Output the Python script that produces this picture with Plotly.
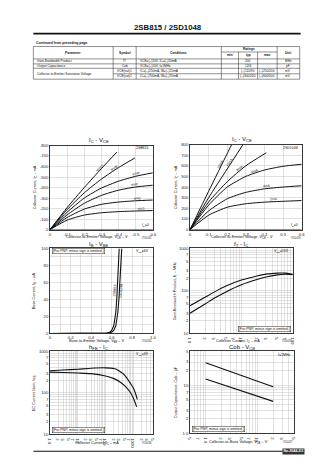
import math
import numpy as np
import plotly.graph_objects as go

W, H = 336, 475
FONT = "Liberation Sans, Arial, Helvetica, sans-serif"
INK = "#111111"
GRID = "#c4c4c4"

# ---------------- I_C - V_CE : 2SB815 (PNP) ----------------
b815_ib_labels = ["-10mA", "-8mA", "-6mA", "-4mA", "-2mA", "-1mA"]
b815_vce = [
    [0, -0.1, -0.2, -0.3, -0.39],
    [0, -0.1, -0.2, -0.3, -0.4, -0.495],
    [0, -0.1, -0.2, -0.3, -0.4, -0.5, -0.6],
    [0, -0.1, -0.2, -0.3, -0.4, -0.5, -0.6],
    [0, -0.1, -0.2, -0.3, -0.4, -0.5, -0.6],
    [0, -0.1, -0.2, -0.3, -0.4, -0.5, -0.6],
]
b815_ic = [
    [0, -210, -400, -580, -737],
    [0, -190, -350, -480, -590, -681],
    [0, -165, -300, -395, -460, -507, -540],
    [0, -140, -250, -325, -375, -405, -422],
    [0, -115, -195, -240, -262, -274, -281],
    [0, -90, -138, -160, -171, -177, -181],
]
b815_label_at = [-0.29, -0.375, -0.50, -0.49, -0.51, -0.53]

# ---------------- I_C - V_CE : 2SD1048 (NPN) ----------------
d1048_ib_labels = ["20mA", "10mA", "8mA", "6mA", "4mA", "2mA"]
d1048_vce = [
    [0, 0.1, 0.2, 0.224],
    [0, 0.1, 0.2, 0.285],
    [0, 0.1, 0.2, 0.3, 0.41],
    [0, 0.1, 0.2, 0.3, 0.4, 0.5, 0.6],
    [0, 0.1, 0.2, 0.3, 0.4, 0.5, 0.6],
    [0, 0.1, 0.2, 0.3, 0.4, 0.5, 0.6],
]
d1048_ic = [
    [0, 360, 715, 800],
    [0, 300, 570, 800],
    [0, 260, 450, 600, 722],
    [0, 230, 400, 500, 560, 595, 614],
    [0, 175, 290, 350, 383, 400, 412],
    [0, 135, 210, 243, 258, 266, 273],
]
d1048_label_at = [0.165, 0.215, 0.27, 0.35, 0.415, 0.45]

# ---------------- I_B - V_BE ----------------
ib_vbe_b815 = [0, 0.50, 0.55, 0.58, 0.60, 0.62, 0.63, 0.64, 0.65, 0.66, 0.673]
ib_b815 = [0, 0, 0.5, 1.5, 3.5, 9, 15, 25, 42, 66, 100]
ib_vbe_d1048 = [0, 0.52, 0.57, 0.60, 0.62, 0.64, 0.65, 0.66, 0.67, 0.68, 0.69, 0.698]
ib_d1048 = [0, 0, 0.5, 1.5, 3.5, 9, 15, 25, 40, 58, 82, 100]

# ---------------- f_T - I_C ----------------
ft_ic = [1, 2, 3, 5, 10, 20, 30, 50, 70, 100]
ft_b815 = [45, 72, 95, 130, 180, 225, 248, 262, 262, 245]
ft_d1048 = [30, 50, 68, 95, 140, 185, 212, 238, 247, 242]

# ---------------- h_FE - I_C ----------------
hfe_ic_d1048 = [1, 3, 10, 30, 100, 200, 300, 500, 800, 1000, 1200, 1380]
hfe_d1048 = [340, 355, 370, 390, 400, 385, 340, 260, 165, 130, 95, 70]
hfe_ic_b815 = [1, 3, 10, 30, 100, 200, 340, 500, 760, 1000, 1310]
hfe_b815 = [315, 310, 300, 290, 255, 220, 180, 145, 105, 75, 46]

# ---------------- Cob - V_CB ----------------
cob_vcb = [1, 2, 5, 10, 20]
cob_b815 = [29, 22, 15.5, 12, 9.2]
cob_d1048 = [13.3, 10.4, 7.6, 5.9, 4.6]

# ---------------- tick labels ----------------
ic_vce_pnp_x = [0, -0.1, -0.2, -0.3, -0.4, -0.5, -0.6]
ic_vce_pnp_xt = ["0", "-0.1", "-0.2", "-0.3", "-0.4", "-0.5", "-0.6"]
ic_vce_pnp_y = [0, -100, -200, -300, -400, -500, -600, -700, -800]
ic_vce_pnp_yt = ["0", "-100", "-200", "-300", "-400", "-500", "-600", "-700", "-800"]
ic_vce_npn_x = [0, 0.1, 0.2, 0.3, 0.4, 0.5, 0.6]
ic_vce_npn_xt = ["0", "0.1", "0.2", "0.3", "0.4", "0.5", "0.6"]
ic_vce_npn_y = [0, 100, 200, 300, 400, 500, 600, 700, 800]
ic_vce_npn_yt = ["0", "100", "200", "300", "400", "500", "600", "700", "800"]
vbe_x = [0, 0.1, 0.2, 0.3, 0.4, 0.5, 0.6, 0.7, 0.8, 0.9, 1.0]
vbe_xt = ["0", " ", "0.2", " ", "0.4", " ", "0.6", " ", "0.8", " ", "1.0"]
ib_y = [0, 10, 20, 30, 40, 50, 60, 70, 80, 90, 100]
ib_yt = ["0", " ", "20", " ", "40", " ", "60", " ", "80", " ", "100"]

# table contents
tbl_param = ["Gain-Bandwidth Product", "Output Capacitance", "Collector-to-Emitter Saturation Voltage"]
tbl_symbol = ["fT", "Cob", "VCE(sat)1", "VCE(sat)2"]
tbl_cond = ["VCE=(–)10V, IC=(–)50mA", "VCB=(–)10V, f=1MHz",
            "IC=(–)250mA, IB=(–)25mA", "IC=(–)700mA, IB=(–)70mA"]
tbl_typ = ["200", "12/6", "(–)110/90", "(–)300/240"]
tbl_max = ["", "", "(–)250/200", "(–)600/500"]
tbl_unit = ["MHz", "pF", "mV", "mV"]


def log_ticks(lo, hi, first_text):
    """Tick positions 1..9 per decade, labelled at 1, 2, 3, 5, 7."""
    vals, texts = [], []
    e = math.floor(math.log10(lo))
    while 10 ** e <= hi * 1.0001:
        for m in range(1, 10):
            v = m * 10 ** e
            if lo * 0.9999 <= v <= hi * 1.0001:
                vals.append(v)
                if m == 1:
                    t = f"{v:g}"
                elif m in (2, 3, 5, 7):
                    t = str(m)
                else:
                    t = " "
                texts.append(t)
        e += 1
    if texts and texts[0] in ("1", "1.0"):
        texts[0] = first_text
    return vals, texts


def dom_x(x0, x1):
    return [x0 / W, x1 / W]


def dom_y(y0, y1):
    return [1 - y1 / H, 1 - y0 / H]


def axis(**kw):
    base = dict(showgrid=True, gridcolor=GRID, gridwidth=0.5, zeroline=False,
                showline=True, linecolor="#222", linewidth=0.9, mirror=True,
                ticks="", tickfont=dict(size=4.2, family=FONT, color="#222"),
                fixedrange=True, showspikes=False)
    base.update(kw)
    return base


fig = go.Figure()


def curve(xs, ys, xa, ya, width=1.0, shape="spline"):
    fig.add_trace(go.Scatter(x=xs, y=ys, mode="lines",
                             line=dict(color=INK, width=width, shape=shape, smoothing=0.6),
                             xaxis=xa, yaxis=ya, showlegend=False, hoverinfo="skip"))


annotations = []
shapes = []


def text_px(text, x, y, size=4.0, xanchor="center", yanchor="middle", angle=0,
            color="#111", **extra):
    d = dict(text=text, x=x / W, y=1 - y / H, xref="paper", yref="paper",
             showarrow=False, xanchor=xanchor, yanchor=yanchor, textangle=angle,
             font=dict(size=size, family=FONT, color=color))
    d.update(extra)
    annotations.append(d)


def line_px(x0, y0, x1, y1, width=0.6, color="#222"):
    shapes.append(dict(type="line", xref="paper", yref="paper",
                       x0=x0 / W, x1=x1 / W, y0=1 - y0 / H, y1=1 - y1 / H,
                       line=dict(color=color, width=width)))


def label_on_curve(xs, ys, at, xa, ya, text, box, xr, yr, logx=False, logy=False,
                   size=3.4, yshift=2.5):
    """Rotated label sitting on a curve, angle taken from the local slope."""
    fx = math.log10 if logx else (lambda v: v)
    fy = math.log10 if logy else (lambda v: v)
    X = np.array([fx(v) for v in xs], float)
    Y = np.array([fy(v) for v in ys], float)
    if X[0] > X[-1]:
        X, Y = X[::-1], Y[::-1]
    a = fx(at)
    d = abs(X[-1] - X[0]) * 0.04
    ya_ = np.interp(a, X, Y)
    y1 = np.interp(a - d, X, Y)
    y2 = np.interp(a + d, X, Y)
    wpx, hpx = box[2] - box[0], box[3] - box[1]
    sx = wpx / (fx(xr[1]) - fx(xr[0]))
    sy = hpx / (fy(yr[1]) - fy(yr[0]))
    ang = -math.degrees(math.atan2((y2 - y1) * sy, (2 * d) * sx))
    xv = at
    yv = 10 ** ya_ if logy else ya_
    annotations.append(dict(text=text, x=xv, y=yv, xref=xa, yref=ya, showarrow=False,
                            textangle=ang, yshift=yshift,
                            font=dict(size=size, family=FONT, color="#111")))


# panel boxes (left, top, right, bottom) in pixels
P1 = (48, 144, 153, 229)
P2 = (191, 143, 305, 229)
P3 = (48, 248, 153, 334)
P4 = (191, 248, 296, 334)
P5 = (48, 352, 153, 436)
P6 = (191, 352, 297, 435)

layout_axes = {}

# ---- panel 1 ----
r1x, r1y = [0, -0.6], [0, -800]
layout_axes["xaxis"] = axis(domain=dom_x(P1[0], P1[2]), range=r1x, anchor="y",
                            tickvals=ic_vce_pnp_x, ticktext=ic_vce_pnp_xt)
layout_axes["yaxis"] = axis(domain=dom_y(P1[1], P1[3]), range=r1y, anchor="x",
                            tickvals=ic_vce_pnp_y, ticktext=ic_vce_pnp_yt)
for xs, ys, lab, at in zip(b815_vce, b815_ic, b815_ib_labels, b815_label_at):
    curve(xs, ys, "x", "y")
    label_on_curve(xs, ys, at, "x", "y", lab, P1, r1x, r1y)
curve([0, -0.6], [0, 0], "x", "y", width=1.0, shape="linear")

# ---- panel 2 ----
r2x, r2y = [0, 0.6], [0, 800]
layout_axes["xaxis2"] = axis(domain=dom_x(P2[0], P2[2]), range=r2x, anchor="y2",
                             tickvals=ic_vce_npn_x, ticktext=ic_vce_npn_xt)
layout_axes["yaxis2"] = axis(domain=dom_y(P2[1], P2[3]), range=r2y, anchor="x2",
                             tickvals=ic_vce_npn_y, ticktext=ic_vce_npn_yt)
for xs, ys, lab, at in zip(d1048_vce, d1048_ic, d1048_ib_labels, d1048_label_at):
    curve(xs, ys, "x2", "y2")
    label_on_curve(xs, ys, at, "x2", "y2", lab, P2, r2x, r2y)
curve([0, 0.6], [0, 0], "x2", "y2", width=1.0, shape="linear")

# ---- panel 3 ----
r3x, r3y = [0, 1.0], [0, 100]
layout_axes["xaxis3"] = axis(domain=dom_x(P3[0], P3[2]), range=r3x, anchor="y3",
                             tickvals=vbe_x, ticktext=vbe_xt)
layout_axes["yaxis3"] = axis(domain=dom_y(P3[1], P3[3]), range=r3y, anchor="x3",
                             tickvals=ib_y, ticktext=ib_yt)
curve(ib_vbe_b815, ib_b815, "x3", "y3", width=1.1, shape="linear")
curve(ib_vbe_d1048, ib_d1048, "x3", "y3", width=1.1, shape="linear")
annotations.append(dict(text="2SB815", x=0.628, y=50, xref="x3", yref="y3", showarrow=False,
                        textangle=-85, font=dict(size=3.4, family=FONT, color="#111")))
annotations.append(dict(text="2SD1048", x=0.69, y=50, xref="x3", yref="y3", showarrow=False,
                        textangle=-85, font=dict(size=3.4, family=FONT, color="#111")))

# ---- panel 4 ----
ft_xv, ft_xt = log_ticks(1, 100, "1.0")
ft_yv, ft_yt = log_ticks(10, 1000, "10")
r4x, r4y = [1, 100], [10, 1000]
layout_axes["xaxis4"] = axis(domain=dom_x(P4[0], P4[2]), type="log", range=[0, 2], anchor="y4",
                             tickvals=ft_xv, ticktext=ft_xt)
layout_axes["yaxis4"] = axis(domain=dom_y(P4[1], P4[3]), type="log", range=[1, 3], anchor="x4",
                             tickvals=ft_yv, ticktext=ft_yt)
curve(ft_ic, ft_b815, "x4", "y4", width=1.1)
curve(ft_ic, ft_d1048, "x4", "y4", width=1.1)
label_on_curve(ft_ic, ft_b815, 11, "x4", "y4", "2SB815", P4, r4x, r4y, True, True, yshift=3)
label_on_curve(ft_ic, ft_d1048, 13, "x4", "y4", "2SD1048", P4, r4x, r4y, True, True, yshift=-3)

# ---- panel 5 ----
hfe_xv, hfe_xt = log_ticks(1, 5000, "1.0")
hfe_yv, hfe_yt = log_ticks(10, 1000, "10")
r5x, r5y = [1, 5000], [10, 1000]
layout_axes["xaxis5"] = axis(domain=dom_x(P5[0], P5[2]), type="log",
                             range=[0, math.log10(5000)], anchor="y5",
                             tickvals=hfe_xv, ticktext=hfe_xt)
layout_axes["yaxis5"] = axis(domain=dom_y(P5[1], P5[3]), type="log", range=[1, 3], anchor="x5",
                             tickvals=hfe_yv, ticktext=hfe_yt)
curve(hfe_ic_d1048, hfe_d1048, "x5", "y5", width=1.1)
curve(hfe_ic_b815, hfe_b815, "x5", "y5", width=1.1)
label_on_curve(hfe_ic_d1048, hfe_d1048, 90, "x5", "y5", "2SD1048", P5, r5x, r5y, True, True, yshift=3)
label_on_curve(hfe_ic_b815, hfe_b815, 60, "x5", "y5", "2SB815", P5, r5x, r5y, True, True, yshift=-3)

# ---- panel 6 ----
cob_xv, cob_xt = log_ticks(0.5, 50, "1.0")
cob_xt = [("1.0" if v == 1 else t) for v, t in zip(cob_xv, cob_xt)]
cob_xt = [("5" if v == 0.5 else ("7" if v == 0.7 else t)) if v < 1 else t
          for v, t in zip(cob_xv, cob_xt)]
cob_yv, cob_yt = log_ticks(1, 50, "1.0")
r6x, r6y = [0.5, 50], [1, 50]
layout_axes["xaxis6"] = axis(domain=dom_x(P6[0], P6[2]), type="log",
                             range=[math.log10(0.5), math.log10(50)], anchor="y6",
                             tickvals=cob_xv, ticktext=cob_xt)
layout_axes["yaxis6"] = axis(domain=dom_y(P6[1], P6[3]), type="log",
                             range=[0, math.log10(50)], anchor="x6",
                             tickvals=cob_yv, ticktext=cob_yt)
curve(cob_vcb, cob_b815, "x6", "y6", width=1.1, shape="linear")
curve(cob_vcb, cob_d1048, "x6", "y6", width=1.1, shape="linear")
label_on_curve(cob_vcb, cob_b815, 8, "x6", "y6", "2SB815", P6, r6x, r6y, True, True, yshift=3)
label_on_curve(cob_vcb, cob_d1048, 8, "x6", "y6", "2SD1048", P6, r6x, r6y, True, True, yshift=3)

# ---- chart titles ----
TS = 6.0
text_px("I<sub>C</sub> - V<sub>CE</sub>", 98, 139, TS)
text_px("I<sub>C</sub> - V<sub>CE</sub>", 244, 138, TS)
text_px("I<sub>B</sub> - V<sub>BE</sub>", 98, 243.8, TS)
text_px("f<sub>T</sub> - I<sub>C</sub>", 243, 243.8, TS)
text_px("h<sub>FE</sub> - I<sub>C</sub>", 98, 348, TS)
text_px("Cob - V<sub>CB</sub>", 244, 348, TS)

# ---- axis titles ----
AS = 3.8
text_px("Collector-to-Emitter Voltage, V<sub>CE</sub> – V", 96, 237, AS)
text_px("Collector-to-Emitter Voltage, V<sub>CE</sub> – V", 244, 237, AS)
text_px("Base-to-Emitter Voltage, V<sub>BE</sub> – V", 96, 342, AS)
text_px("Collector Current, I<sub>C</sub> – mA", 240, 342, AS)
text_px("Collector Current, I<sub>C</sub> – mA", 96, 445, AS)
text_px("Collector-to-Base Voltage, V<sub>CB</sub> – V", 240, 444, AS)
text_px("Collector Current, I<sub>C</sub> – mA", 33, 186, AS, angle=-90)
text_px("Collector Current, I<sub>C</sub> – mA", 177, 186, AS, angle=-90)
text_px("Base Current, I<sub>B</sub> – μA", 33, 291, AS, angle=-90)
text_px("Gain-Bandwidth Product, f<sub>T</sub> – MHz", 177, 291, AS, angle=-90)
text_px("DC Current Gain, h<sub>FE</sub>", 33, 394, AS, angle=-90)
text_px("Output Capacitance, Cob – pF", 177, 393, AS, angle=-90)

# figure id codes
IDS = 2.6
for x, y, code in [(154, 237, "IT00432"), (306, 237, "IT00433"), (154, 342, "IT00434"),
                   (297, 342, "IT00435"), (154, 445, "IT00436"), (298, 444, "IT00437")]:
    text_px(code, x, y, IDS, xanchor="right", color="#333")

# ---- in-plot notes ----
NS = 3.5
text_px("2SB815", 151, 147, NS, xanchor="right")
text_px("2SD1048", 303, 147, NS, xanchor="right")
text_px("I<sub>B</sub>=0", 151, 225, NS, xanchor="right")
text_px("I<sub>B</sub>=0", 303, 225, NS, xanchor="right")
note = "[For PNP, minus sign is omitted.]"
boxed = dict(bordercolor="#222", borderwidth=0.5, borderpad=0.6, bgcolor="white")
text_px(note, 50, 251, NS, xanchor="left", **boxed)
text_px("V<sub>CE</sub>=6V", 151, 251, NS, xanchor="right")
text_px("V<sub>CE</sub>=10V", 294, 251, NS, xanchor="right")
text_px(note, 294, 329, NS, xanchor="right", **boxed)
text_px("V<sub>CE</sub>=6V", 151, 355, NS, xanchor="right")
text_px(note, 50, 432, NS, xanchor="left", **boxed)
text_px("f=1MHz", 295, 356, NS, xanchor="right")
text_px(note, 193, 431, NS, xanchor="left", **boxed)

# ---- page header ----
text_px("<b>2SB815 / 2SD1048</b>", 168, 25, 7.8)
line_px(31, 31, 304, 31, width=1.6, color="#111")
text_px("<b>Continued from preceding page.</b>", 32, 40.5, 3.4, xanchor="left")

# ---- table ----
cols = [31, 112.5, 136, 223, 240.5, 260, 280, 303]
top, rat_div, hdr_bot = 44, 49.5, 56.5
row_lines = [hdr_bot, 61.5, 66, 71.5, 77]
TW = 0.5
line_px(cols[0], top, cols[-1], top, TW)
line_px(cols[3], rat_div, cols[6], rat_div, TW)
line_px(cols[0], hdr_bot, cols[-1], hdr_bot, TW)
line_px(cols[0], row_lines[1], cols[-1], row_lines[1], TW)
line_px(cols[0], row_lines[2], cols[-1], row_lines[2], TW)
line_px(cols[1], row_lines[3], cols[-1], row_lines[3], TW)
line_px(cols[0], row_lines[4], cols[-1], row_lines[4], TW)
for i, c in enumerate(cols):
    y0 = rat_div if i in (4, 5) else top
    line_px(c, y0, c, row_lines[4], TW)

FS = 3.2
mid = lambda a, b: (a + b) / 2
text_px("<b>Parameter</b>", mid(cols[0], cols[1]), mid(top, hdr_bot), FS)
text_px("<b>Symbol</b>", mid(cols[1], cols[2]), mid(top, hdr_bot), FS)
text_px("<b>Conditions</b>", mid(cols[2], cols[3]), mid(top, hdr_bot), FS)
text_px("<b>Ratings</b>", mid(cols[3], cols[6]), mid(top, rat_div), FS)
text_px("<b>min</b>", mid(cols[3], cols[4]), mid(rat_div, hdr_bot), FS)
text_px("<b>typ</b>", mid(cols[4], cols[5]), mid(rat_div, hdr_bot), FS)
text_px("<b>max</b>", mid(cols[5], cols[6]), mid(rat_div, hdr_bot), FS)
text_px("<b>Unit</b>", mid(cols[6], cols[7]), mid(top, hdr_bot), FS)

row_mids = [mid(row_lines[i], row_lines[i + 1]) for i in range(4)]
text_px(tbl_param[0], cols[0] + 1.5, row_mids[0], FS, xanchor="left")
text_px(tbl_param[1], cols[0] + 1.5, row_mids[1], FS, xanchor="left")
text_px(tbl_param[2], cols[0] + 1.5, mid(row_lines[2], row_lines[4]), FS, xanchor="left")
for i in range(4):
    text_px(tbl_symbol[i], mid(cols[1], cols[2]), row_mids[i], FS)
    text_px(tbl_cond[i], cols[2] + 1.5, row_mids[i], FS, xanchor="left")
    text_px(tbl_typ[i], mid(cols[4], cols[5]), row_mids[i], FS)
    if tbl_max[i]:
        text_px(tbl_max[i], mid(cols[5], cols[6]), row_mids[i], FS)
    text_px(tbl_unit[i], mid(cols[6], cols[7]), row_mids[i], FS)

# ---- page footer ----
line_px(31, 453, 287, 453, width=1.2, color="#111")
text_px("<b>No.2044-2/3</b>", 297, 453, 3.6, color="white", bgcolor="#333", borderpad=0.4)

fig.update_layout(
    width=W, height=H, autosize=False,
    margin=dict(l=0, r=0, t=0, b=0, pad=0),
    paper_bgcolor="white", plot_bgcolor="white",
    font=dict(family=FONT, size=4, color="#111"),
    showlegend=False,
    annotations=annotations, shapes=shapes,
    **layout_axes,
)

fig.write_html("out.html", config=dict(displayModeBar=False, staticPlot=True))
